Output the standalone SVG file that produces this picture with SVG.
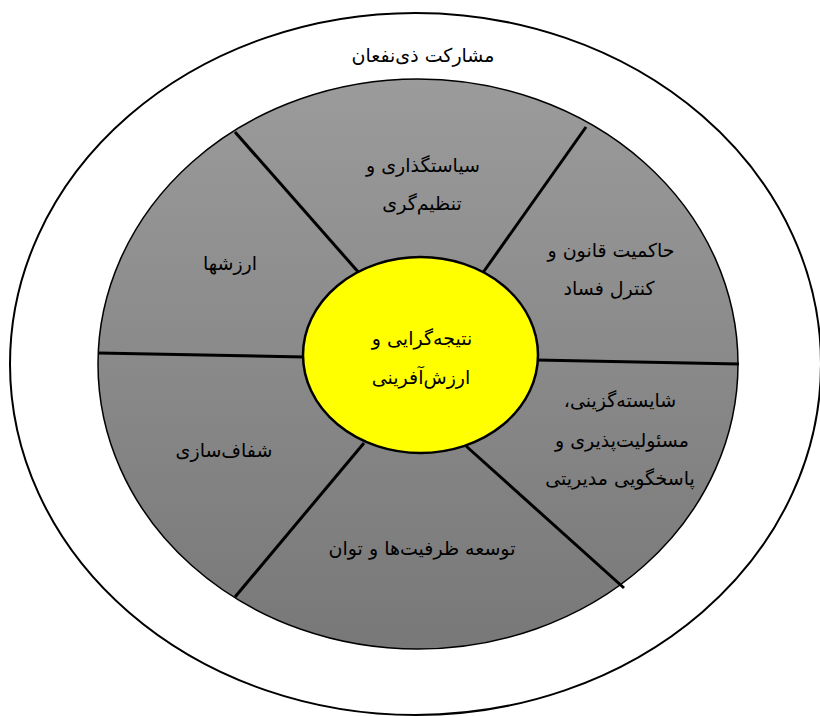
<svg xmlns="http://www.w3.org/2000/svg" width="820" height="716" viewBox="0 0 820 716">
<style>
text{font-family:"DejaVu Sans","Noto Sans",sans-serif;font-size:19px;fill:#000;text-anchor:middle;direction:rtl}
.div{stroke:#000;stroke-width:3;fill:none}
</style>
<defs>
<linearGradient id="g" x1="0" y1="0" x2="0" y2="1">
<stop offset="0" stop-color="#9b9b9b"/>
<stop offset="1" stop-color="#787878"/>
</linearGradient>
</defs>
<rect width="820" height="716" fill="#fff"/>
<g id="stakeholders">
<ellipse cx="415.5" cy="364" rx="405.5" ry="351" fill="#fff" stroke="#000" stroke-width="2"/>
<text x="423" y="62">مشارکت ذی‌نفعان</text>
</g>
<g id="ring">
<ellipse cx="418" cy="364" rx="320" ry="285" fill="url(#g)" stroke="#000" stroke-width="1.5"/>
</g>
<g id="connectors">
<line class="div" x1="235" y1="132" x2="360" y2="274"/>
<line class="div" x1="586" y1="127" x2="482" y2="274"/>
<line class="div" x1="98" y1="353" x2="305" y2="357"/>
<line class="div" x1="536" y1="360" x2="739" y2="364"/>
<line class="div" x1="364" y1="443" x2="235" y2="597"/>
<line class="div" x1="466" y1="446" x2="624" y2="588"/>
</g>
<g id="policy">
<text x="423" y="172">سیاستگذاری و</text>
<text x="422" y="210">تنظیم‌گری</text>
</g>
<g id="rule-of-law">
<text x="611" y="257">حاکمیت قانون و</text>
<text x="609" y="295">کنترل فساد</text>
</g>
<g id="meritocracy">
<text x="620" y="407">شایسته‌گزینی،</text>
<text x="622" y="447">مسئولیت‌پذیری و</text>
<text x="620" y="485">پاسخگویی مدیریتی</text>
</g>
<g id="capacity">
<text x="422" y="555">توسعه ظرفیت‌ها و توان</text>
</g>
<g id="transparency">
<text x="224" y="457">شفاف‌سازی</text>
</g>
<g id="values">
<text x="230" y="270">ارزشها</text>
</g>
<g id="center">
<ellipse cx="420.5" cy="355" rx="117.5" ry="98" fill="#ffff00" stroke="#000" stroke-width="2.5"/>
<text x="422" y="345">نتیجه‌گرایی و</text>
<text x="421" y="384">ارزش‌آفرینی</text>
</g>
</svg>
